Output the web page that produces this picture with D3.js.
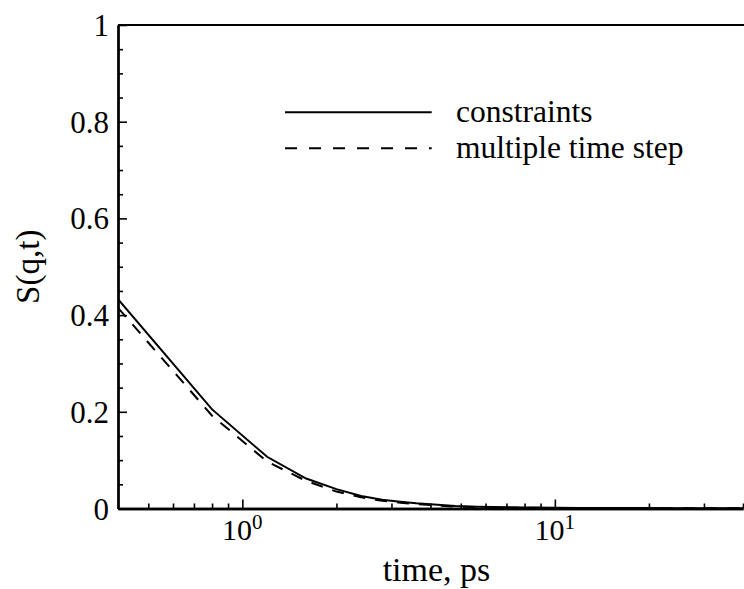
<!DOCTYPE html>
<html><head><meta charset="utf-8">
<script src="https://cdn.jsdelivr.net/npm/d3@7"></script>
<style>
body{margin:0;background:#fff}
svg text, svg tspan{font-family:'Liberation Serif' !important}
</style>
</head><body>
<svg id="c" width="744" height="589"></svg>
<script>
// ---- data ----
const times = [0.4,0.8,1.2,1.6,2.0,2.4,2.8,3.2,3.6,4.0,4.8,5.6,6.4,8,10,12,16,20,24,32,40];
const constraints = [0.433,0.205,0.107,0.062,0.040,0.026,0.018,0.014,0.011,0.009,0.005,0.0035,0.003,0.002,0.0015,0.0012,0.001,0.0008,0.0006,0.0004,0.0003];
const multipleTimeStep = [0.415,0.192,0.097,0.057,0.035,0.023,0.016,0.012,0.009,0.007,0.004,0.003,0.002,0.0015,0.0012,0.001,0.001,0.0008,0.0006,0.0004,0.0003];
const seriesNames = ["constraints","multiple time step"];
const yMajorTicks = [0,0.2,0.4,0.6,0.8,1];
const yTickLabels = ["0","0.2","0.4","0.6","0.8","1"];
const xMajorTicks = [1,10];
const xTickExponents = ["0","1"];
const xMinorTicks = [0.5,0.6,0.7,0.8,0.9,2,3,4,5,6,7,8,9,20,30,40];
const xTitle = "time, ps";
const yTitle = "S(q,t)";

// ---- layout ----
const L = 118, R = 743, T = 25, B = 508.5;
const svg = d3.select("#c");
const x = d3.scaleLog().domain([0.4,40]).range([L,R]);
const y = d3.scaleLinear().domain([0,1]).range([B,T]);

const tg = svg.append("g");
function txt(){
  return tg.append("text").style("font-family","'Liberation Serif'","important").attr("fill","#000");
}
yMajorTicks.forEach((v,i)=>{
  txt().attr("x",L-9).attr("y",y(v)+11).attr("text-anchor","end")
    .style("font-size","31px").text(yTickLabels[i]);
});
xMajorTicks.forEach((v,i)=>{
  const t = txt().attr("x",x(v)).attr("y",540).attr("text-anchor","middle").style("font-size","30px");
  t.append("tspan").text("10");
  t.append("tspan").attr("dy",-11).style("font-size","21px").text(xTickExponents[i]);
});
txt().attr("x",(L+R)/2+6).attr("y",581).attr("text-anchor","middle")
  .style("font-size","34px").text(xTitle);
txt().attr("transform",`translate(39,${(T+B)/2}) rotate(-90)`)
  .attr("text-anchor","middle").style("font-size","33px").text(yTitle);
const legY = [112.3,148.3];
const legDash = [null,"12,12"];
seriesNames.forEach((name,i)=>{
  txt().attr("x",456).attr("y",legY[i]+9.5).style("font-size","31.5px").text(name);
});

// clip
svg.append("defs").append("clipPath").attr("id","clip")
  .append("rect").attr("x",L).attr("y",T-2).attr("width",R-L+5).attr("height",B-T+2);

// top border
svg.append("line").attr("x1",L).attr("x2",744).attr("y1",T).attr("y2",T)
  .attr("stroke","#000").attr("stroke-width",2.2);

// legend lines
seriesNames.forEach((name,i)=>{
  svg.append("line").attr("x1",285).attr("x2",431.7).attr("y1",legY[i]).attr("y2",legY[i])
    .attr("stroke","#000").attr("stroke-width",2).attr("stroke-dasharray",legDash[i]);
});

// curves
const line = d3.line().x(d=>x(d[0])).y(d=>y(d[1]));
const g = svg.append("g").attr("clip-path","url(#clip)");
g.append("path").datum(times.map((t,i)=>[t,multipleTimeStep[i]]))
  .attr("d",line).attr("fill","none").attr("stroke","#000").attr("stroke-width",2)
  .attr("stroke-dasharray","12,10");
g.append("path").datum(times.map((t,i)=>[t,constraints[i]]))
  .attr("d",line).attr("fill","none").attr("stroke","#000").attr("stroke-width",2);

// y axis (ticks point inward)
const yMinor = d3.range(0,1.0001,0.05).filter(v=>Math.abs(v*5-Math.round(v*5))>1e-6);
const yAx = svg.append("g").attr("transform",`translate(${L},0)`);
yAx.call(d3.axisLeft(y).tickValues(yMinor).tickSize(-5).tickSizeOuter(0).tickFormat(""));
yAx.append("g").call(d3.axisLeft(y).tickValues(yMajorTicks).tickSize(-9).tickSizeOuter(0).tickFormat(""));

// x axis
const xAx = svg.append("g").attr("transform",`translate(0,${B})`);
xAx.call(d3.axisBottom(x).tickValues(xMinorTicks).tickSize(-5).tickSizeOuter(0).tickFormat(""));
xAx.append("g").call(d3.axisBottom(x).tickValues(xMajorTicks).tickSize(-9).tickSizeOuter(0).tickFormat(""));

[yAx,xAx].forEach(ax=>{
  ax.selectAll(".tick text").remove();
  ax.attr("font-family",null).attr("font-size",null);
  ax.selectAll("g").attr("font-family",null).attr("font-size",null);
  ax.selectAll("path.domain").attr("stroke","#000").attr("stroke-width",2.3);
  ax.selectAll(".tick line").attr("stroke","#000").attr("stroke-width",1.6);
});
</script>
</body></html>
